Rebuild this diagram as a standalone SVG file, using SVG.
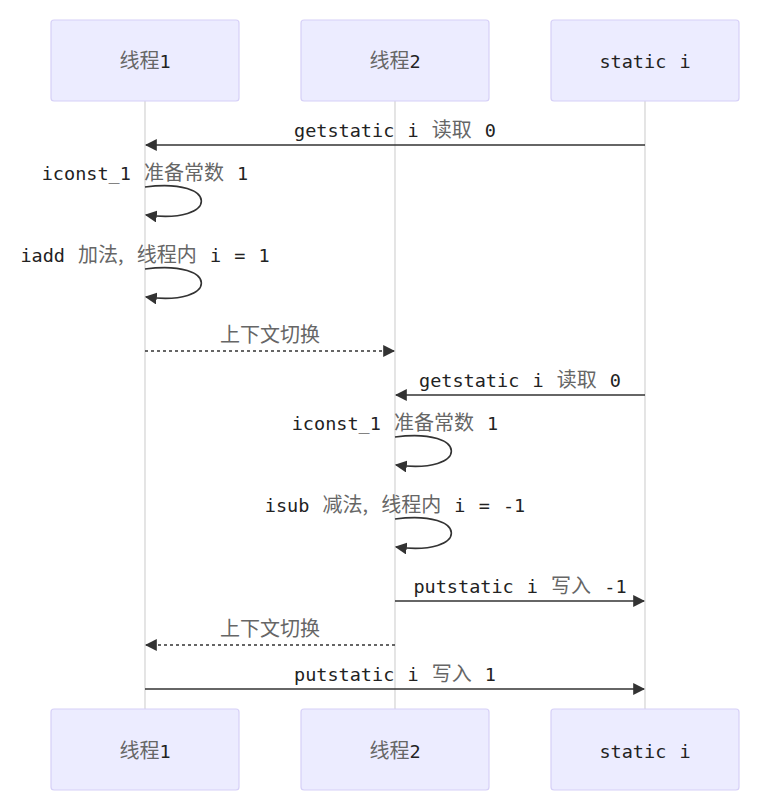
<svg xmlns="http://www.w3.org/2000/svg" width="779" height="812" viewBox="0 0 779 812">
<defs>
<marker id="arr" viewBox="0 0 10 10" refX="9" refY="5" markerWidth="12" markerHeight="12" markerUnits="userSpaceOnUse" orient="auto">
<path d="M0,0 L10,5 L0,10 z" fill="#333"/>
</marker>
<style>
.actor{fill:#ECECFF;stroke:#D6D0F7;stroke-width:1.2}
.life{stroke:#D3D3D3;stroke-width:1.2}
.msg{stroke:#333;stroke-width:1.6;fill:none}
.dash{stroke-dasharray:3,3}
.t{font-family:"DejaVu Sans Mono","Liberation Mono","Noto Sans CJK SC",monospace;font-size:18.5px;fill:#222;text-anchor:middle;word-spacing:2px}
.c{font-family:"Noto Sans CJK SC",sans-serif;fill:#666;font-size:20px}
</style>
</defs>
<rect width="779" height="812" fill="#fff"/>
<g id="lifelines">
<line class="life" x1="145" y1="101" x2="145" y2="709"/>
<line class="life" x1="395" y1="101" x2="395" y2="709"/>
<line class="life" x1="645" y1="101" x2="645" y2="709"/>
</g>
<g id="actor-t1-top"><rect class="actor" x="51" y="20" width="188" height="81" rx="3"/><text class="t" x="145" y="68"><tspan class="c">线程</tspan>1</text></g>
<g id="actor-t2-top"><rect class="actor" x="301" y="20" width="188" height="81" rx="3"/><text class="t" x="395" y="68"><tspan class="c">线程</tspan>2</text></g>
<g id="actor-s-top"><rect class="actor" x="551" y="20" width="188" height="81" rx="3"/><text class="t" x="645" y="68">static i</text></g>
<g id="actor-t1-bottom"><rect class="actor" x="51" y="709" width="188" height="81" rx="3"/><text class="t" x="145" y="758"><tspan class="c">线程</tspan>1</text></g>
<g id="actor-t2-bottom"><rect class="actor" x="301" y="709" width="188" height="81" rx="3"/><text class="t" x="395" y="758"><tspan class="c">线程</tspan>2</text></g>
<g id="actor-s-bottom"><rect class="actor" x="551" y="709" width="188" height="81" rx="3"/><text class="t" x="645" y="758">static i</text></g>
<g id="connectors">
<line class="msg" x1="645" y1="145" x2="146" y2="145" marker-end="url(#arr)"/>
<path class="msg" d="M145,187 C220,177 220,225 146,215" marker-end="url(#arr)"/>
<path class="msg" d="M145,269 C220,259 220,307 146,297" marker-end="url(#arr)"/>
<line class="msg dash" x1="145" y1="351" x2="394" y2="351" marker-end="url(#arr)"/>
<line class="msg" x1="645" y1="395" x2="396" y2="395" marker-end="url(#arr)"/>
<path class="msg" d="M395,437 C470,427 470,475 396,465" marker-end="url(#arr)"/>
<path class="msg" d="M395,519 C470,509 470,557 396,547" marker-end="url(#arr)"/>
<line class="msg" x1="395" y1="601" x2="644" y2="601" marker-end="url(#arr)"/>
<line class="msg dash" x1="395" y1="645" x2="146" y2="645" marker-end="url(#arr)"/>
<line class="msg" x1="145" y1="689" x2="644" y2="689" marker-end="url(#arr)"/>
</g>
<g id="labels">
<text class="t" x="395" y="137">getstatic i <tspan class="c">读取</tspan> 0</text>
<text class="t" x="145" y="180">iconst_1 <tspan class="c">准备常数</tspan> 1</text>
<text class="t" x="145" y="262">iadd <tspan class="c">加法,</tspan> <tspan class="c">线程内</tspan> i = 1</text>
<text class="t c" x="270" y="342">上下文切换</text>
<text class="t" x="520" y="387">getstatic i <tspan class="c">读取</tspan> 0</text>
<text class="t" x="395" y="430">iconst_1 <tspan class="c">准备常数</tspan> 1</text>
<text class="t" x="395" y="512">isub <tspan class="c">减法,</tspan> <tspan class="c">线程内</tspan> i = -1</text>
<text class="t" x="520" y="593">putstatic i <tspan class="c">写入</tspan> -1</text>
<text class="t c" x="270" y="636">上下文切换</text>
<text class="t" x="395" y="681">putstatic i <tspan class="c">写入</tspan> 1</text>
</g>
</svg>
